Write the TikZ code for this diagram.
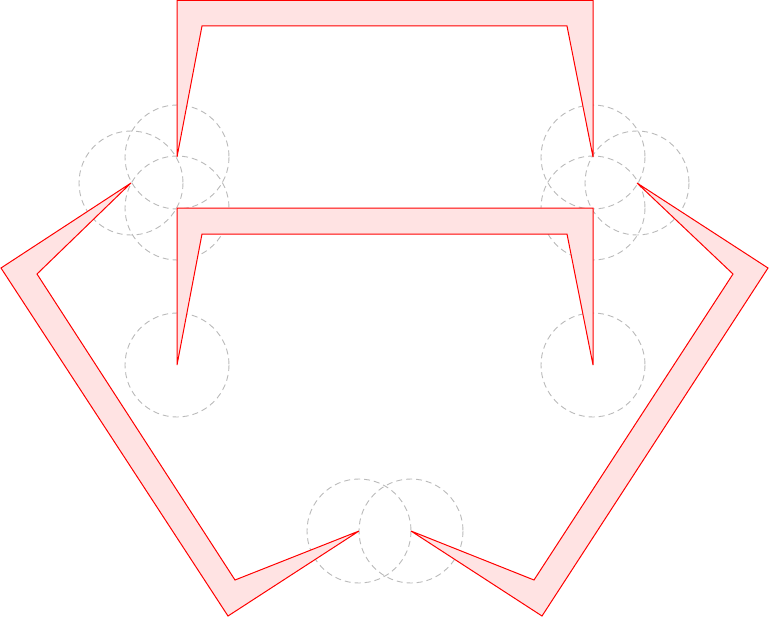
\documentclass[tikz,border=0pt]{standalone}
\begin{document}
\begin{tikzpicture}[x=1pt,y=-1pt,
  shapefill/.style={draw=red,fill=red!11,line width=1pt,line join=miter},
  guide/.style={draw=black!27,line width=0.9pt,dash pattern=on 6pt off 4pt}]
\useasboundingbox (0,0) rectangle (770,618);
% guide circles
\foreach \cx/\cy in {177/157,131/183,177/208,593/157,637/183,593/208,177/365,593/365,359/531,411/531}
  \draw[guide] (\cx,\cy) circle (52);
% top bracket
\draw[shapefill] (177,157) -- (177,0.5) -- (593,0.5) -- (593,157) -- (567,26) -- (202,26) -- cycle;
% middle bracket
\draw[shapefill] (177,365) -- (177,208) -- (593,208) -- (593,365) -- (567,234) -- (202,234) -- cycle;
% left shape
\draw[shapefill] (131,183) -- (1,268) -- (228,616) -- (359,531) -- (235,580) -- (37,274) -- cycle;
% right shape
\draw[shapefill] (637,183) -- (768,268) -- (542,616) -- (411,531) -- (534,580) -- (733,274) -- cycle;
\end{tikzpicture}
\end{document}
